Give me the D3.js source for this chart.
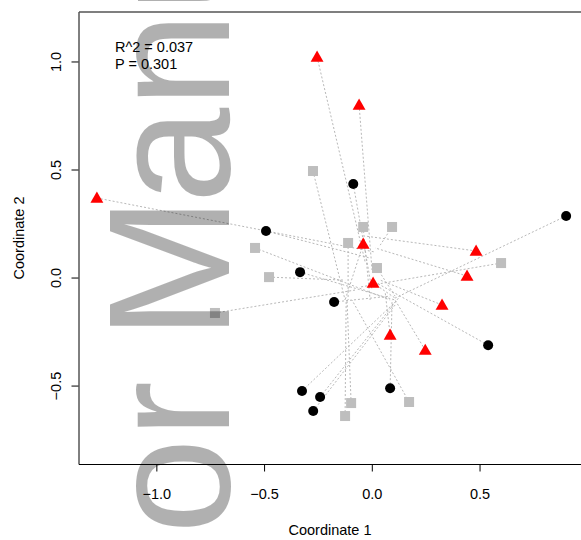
<!DOCTYPE html>
<html>
<head>
<meta charset="utf-8">
<script src="https://cdn.jsdelivr.net/npm/d3@7"></script>
<style>
  body { margin: 0; background: #fff; }
  svg { display: block; font-family: "Liberation Sans", Arial, sans-serif; }
</style>
</head>
<body>
<svg width="581" height="540"></svg>
<script>
// points as [coord1, coord2]; ends are the partner positions the dotted lines go to
var triangles = [[-1.276, 0.368], [-0.254, 1.021], [-0.059, 0.799], [-0.040, 0.155], [0.006, -0.025],
  [0.484, 0.123], [0.442, 0.007], [0.326, -0.127], [0.085, -0.266], [0.248, -0.336]];
var triangleEnds = [[0.015, 0.118], [-0.031, 0.072], [0.001, 0.035], [-0.124, -0.104], [0.108, -0.095],
  [-0.031, 0.192], [0.015, 0.137], [0.039, -0.012], [0.062, -0.067], [0.108, -0.104]];

var circles = [[-0.086, 0.433], [-0.491, 0.215], [-0.333, 0.025], [-0.175, -0.113], [0.902, 0.285],
  [0.540, -0.313], [0.085, -0.512], [-0.324, -0.525], [-0.240, -0.553], [-0.272, -0.618]];
var circleEnds = [[0.001, -0.058], [-0.008, 0.090], [0.108, -0.104], [0.085, -0.086], [0.108, -0.095],
  [0.015, -0.021], [0.094, -0.104], [0.118, -0.104], [0.131, -0.086], [0.108, -0.127]];

var squares = [[-0.273, 0.493], [-0.040, 0.234], [0.094, 0.234], [-0.110, 0.160], [-0.542, 0.137],
  [-0.477, 0.002], [0.024, 0.044], [0.600, 0.067], [-0.728, -0.164], [-0.096, -0.581],
  [-0.124, -0.641], [0.173, -0.576]];
var squareEnds = [[-0.124, -0.104], [-0.008, -0.104], [0.039, 0.150], [-0.110, -0.104], [0.085, -0.104],
  [-0.124, -0.012], [0.108, -0.086], [-0.054, -0.044], [-0.078, -0.058], [-0.115, -0.104],
  [-0.119, -0.104], [-0.092, -0.104]];

var xTicks = [-1.0, -0.5, 0.0, 0.5];
var yTicks = [-0.5, 0.0, 0.5, 1.0];
var statLines = ["R^2 = 0.037", "P = 0.301"];

var svg = d3.select("svg");
var plotLeft = 79, plotRight = 585, plotTop = 12, plotBottom = 464;

var x = d3.scaleLinear().domain([-1.359, 0.9895]).range([plotLeft, plotRight]);
var y = d3.scaleLinear().domain([-0.863, 1.229]).range([plotBottom, plotTop]);

// dotted connector lines
var segs = [];
triangles.forEach(function(p, i) { segs.push([p, triangleEnds[i]]); });
circles.forEach(function(p, i) { segs.push([p, circleEnds[i]]); });
squares.forEach(function(p, i) { segs.push([p, squareEnds[i]]); });

svg.append("g").selectAll("line")
  .data(segs)
  .enter().append("line")
  .attr("x1", function(d) { return x(d[0][0]); })
  .attr("y1", function(d) { return y(d[0][1]); })
  .attr("x2", function(d) { return x(d[1][0]); })
  .attr("y2", function(d) { return y(d[1][1]); })
  .attr("stroke", "#b8b8b8")
  .attr("stroke-width", 1)
  .attr("stroke-dasharray", "2,2");

// points
svg.append("g").selectAll("rect")
  .data(squares)
  .enter().append("rect")
  .attr("x", function(d) { return x(d[0]) - 5; })
  .attr("y", function(d) { return y(d[1]) - 5; })
  .attr("width", 10)
  .attr("height", 10)
  .attr("fill", "#bebebe");

svg.append("g").selectAll("circle")
  .data(circles)
  .enter().append("circle")
  .attr("cx", function(d) { return x(d[0]); })
  .attr("cy", function(d) { return y(d[1]); })
  .attr("r", 5)
  .attr("fill", "#000");

var tri = d3.symbol().type(d3.symbolTriangle).size(72);
svg.append("g").selectAll("path")
  .data(triangles)
  .enter().append("path")
  .attr("d", tri)
  .attr("transform", function(d) { return "translate(" + x(d[0]) + "," + (y(d[1]) + 1) + ")"; })
  .attr("fill", "#ff0000");

// box
svg.append("line").attr("x1", plotLeft).attr("x2", plotLeft).attr("y1", plotTop).attr("y2", plotBottom + 0.5)
  .attr("stroke", "#000");
svg.append("line").attr("x1", plotLeft).attr("x2", plotRight).attr("y1", plotBottom + 0.5).attr("y2", plotBottom + 0.5)
  .attr("stroke", "#000");
svg.append("line").attr("x1", plotLeft).attr("x2", plotRight).attr("y1", plotTop).attr("y2", plotTop)
  .attr("stroke", "#555").attr("stroke-width", 1.5);

// axes
var xAxis = d3.axisBottom(x).tickValues(xTicks).tickFormat(d3.format(".1f")).tickSize(7).tickPadding(17);
var gx = svg.append("g").attr("transform", "translate(0," + (plotBottom + 0.5) + ")").call(xAxis);
gx.select(".domain").remove();
gx.selectAll("text").attr("font-size", "14.5px").attr("fill", "#000").attr("font-family", null);

var yAxis = d3.axisLeft(y).tickValues(yTicks).tickFormat(d3.format(".1f")).tickSize(7).tickPadding(0);
var gy = svg.append("g").attr("transform", "translate(" + (plotLeft - 0.5) + ",0)").call(yAxis);
gy.select(".domain").remove();
gy.selectAll("text")
  .attr("font-size", "14.5px").attr("fill", "#000").attr("font-family", null)
  .attr("text-anchor", "middle")
  .attr("dy", null)
  .attr("x", null)
  .attr("transform", "translate(-18,0) rotate(-90)");

svg.append("text")
  .attr("x", 330).attr("y", 535)
  .attr("text-anchor", "middle")
  .attr("font-size", "14.5px")
  .text("Coordinate 1");

svg.append("text")
  .attr("transform", "translate(24,238) rotate(-90)")
  .attr("text-anchor", "middle")
  .attr("font-size", "14.5px")
  .text("Coordinate 2");

svg.append("g").selectAll("text")
  .data(statLines)
  .enter().append("text")
  .attr("x", 115)
  .attr("y", function(d, i) { return 52 + i * 17; })
  .attr("font-size", "14.5px")
  .text(function(d) { return d; });

// watermark on top (semi-transparent, darkens marks beneath it)
var wm = svg.append("text")
  .attr("transform", "translate(229,534) rotate(-90)")
  .attr("font-size", "172px")
  .attr("fill", "#000")
  .attr("fill-opacity", 0.31);
wm.append("tspan").text("or ");
wm.append("tspan").attr("dx", "-6.5 -7").text("Manuscript");
</script>
</body>
</html>
